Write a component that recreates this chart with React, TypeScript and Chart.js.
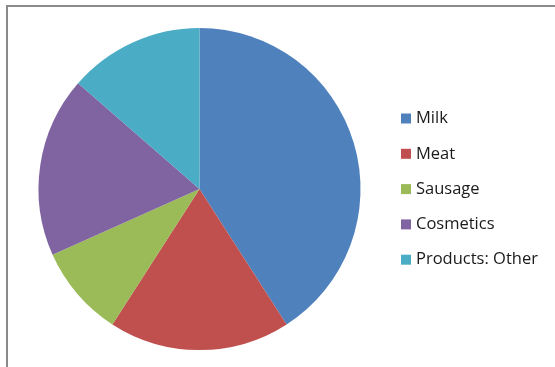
import React, { useEffect, useRef } from "react";
import { Chart, registerables } from "chart.js";

Chart.register(...registerables);

const categories = ["Milk", "Meat", "Sausage", "Cosmetics", "Products: Other"];
const shares = [40.9, 18.2, 9.2, 18.1, 13.6];
const colors = ["#4F81BD", "#C0504D", "#9BBB59", "#8064A2", "#4BACC6"];

const framePlugin = {
  id: "frame",
  beforeDraw(chart: any) {
    const ctx = chart.ctx;
    ctx.save();
    ctx.fillStyle = "#ffffff";
    ctx.fillRect(0, 0, chart.width, chart.height);
    ctx.fillStyle = "#8a8a8a";
    ctx.fillRect(6, 5, chart.width, 2);
    ctx.fillRect(6, 5, 2, chart.height);
    ctx.restore();
  },
};

const legendPlugin = {
  id: "customLegend",
  afterDraw(chart: any) {
    const ctx = chart.ctx;
    const labels: string[] = chart.data.labels;
    const bg: string[] = chart.data.datasets[0].backgroundColor;
    ctx.save();
    ctx.font = "16.5px 'Open Sans', 'Liberation Sans', sans-serif";
    ctx.textBaseline = "middle";
    ctx.textAlign = "left";
    const startY = 118.5;
    const step = 35.3;
    labels.forEach((lab, i) => {
      const y = startY + i * step;
      ctx.fillStyle = bg[i];
      ctx.fillRect(401, y - 5, 10, 10);
      ctx.fillStyle = "#1a1a1a";
      ctx.fillText(lab, 416, y);
    });
    ctx.restore();
  },
};

export default function App() {
  const ref = useRef<HTMLCanvasElement | null>(null);
  useEffect(() => {
    if (!ref.current) return;
    const chart = new Chart(ref.current, {
      type: "pie",
      data: {
        labels: categories,
        datasets: [
          {
            data: shares,
            backgroundColor: colors,
            borderWidth: 0,
          },
        ],
      },
      options: {
        animation: false,
        responsive: false,
        maintainAspectRatio: false,
        layout: { padding: { top: 28, bottom: 17, left: 38.5, right: 194.5 } },
        plugins: {
          legend: { display: false },
          tooltip: { enabled: false },
        },
      },
      plugins: [framePlugin, legendPlugin],
    });
    return () => chart.destroy();
  }, []);
  return (
    <div style={{ position: "absolute", left: 0, top: 0, width: 555, height: 367 }}>
      <canvas ref={ref} width={555} height={367} style={{ width: 555, height: 367, display: "block" }} />
    </div>
  );
}
